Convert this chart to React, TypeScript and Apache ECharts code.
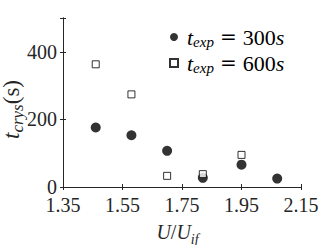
import React, { useEffect, useRef } from "react";
import * as echarts from "echarts";

// Data
const uRatio300 = [1.46, 1.58, 1.70, 1.82, 1.95, 2.07];
const tCrys300 = [176, 153, 107, 27, 66, 25];
const uRatio600 = [1.46, 1.58, 1.70, 1.82, 1.95];
const tCrys600 = [363, 274, 33, 38, 95];

const xTicks = [1.35, 1.55, 1.75, 1.95, 2.15];
const yTicks = [0, 200, 400];
const yMax = 500;

const seriesNames = ["t_exp = 300s", "t_exp = 600s"];
const legendNumbers = ["300", "600"];

const FONT = "Liberation Serif";
const EQ_FONT = "DejaVu Serif";
const AXIS_COLOR = "#262626";
const FS = 20;

const richStyles = (
  mainSize: number,
  subSize: number,
  subPad: number,
  color: string,
  leadPad: number,
  eqPad: number
) => {
  const base = { fontFamily: FONT, fontWeight: "normal", fontSize: mainSize, lineHeight: mainSize, color };
  return {
    i: { ...base, fontStyle: "italic" },
    i0: { ...base, fontStyle: "italic", padding: [0, 0, 0, leadPad] },
    n: { ...base, fontStyle: "normal" },
    eq: {
      ...base,
      fontFamily: EQ_FONT,
      fontSize: mainSize - 2,
      fontStyle: "normal",
      padding: [0, eqPad, 0, eqPad],
    },
    sub: {
      fontFamily: FONT,
      fontStyle: "italic",
      fontWeight: "normal",
      fontSize: subSize,
      lineHeight: subSize,
      verticalAlign: "top",
      padding: [subPad, 0, 0, 0],
      color,
    },
  };
};

export default function App() {
  const ref = useRef<HTMLDivElement>(null);

  useEffect(() => {
    document.body.style.margin = "0";
    const chart = echarts.init(ref.current!, null, { renderer: "svg" });

    const xOffset = xTicks[0];
    const xStep = Math.round((xTicks[1] - xTicks[0]) * 1000) / 1000;
    const xSpan = Math.round((xTicks[xTicks.length - 1] - xTicks[0]) * 1000) / 1000;
    const yStep = yTicks[1] - yTicks[0];
    const toX = (u: number) => Math.round((u - xOffset) * 1000) / 1000;

    const data300 = uRatio300.map((u, i) => [toX(u), tCrys300[i]]);
    const data600 = uRatio600.map((u, i) => [toX(u), tCrys600[i]]);

    const axisLine = { show: true, lineStyle: { color: AXIS_COLOR, width: 1 } };
    const axisTick = { show: true, inside: true, length: 3, lineStyle: { color: AXIS_COLOR, width: 1 } };

    const baseX = {
      type: "value",
      min: 0,
      max: xSpan,
      interval: xStep,
      splitLine: { show: false },
      axisLine,
      axisTick,
    };
    const baseY = {
      type: "value",
      min: 0,
      max: yMax,
      interval: yStep,
      splitLine: { show: false },
      axisLine,
      axisTick,
    };

    chart.setOption({
      animation: false,
      backgroundColor: "#ffffff",
      textStyle: { fontFamily: FONT },
      grid: {
        left: 63,
        right: 31,
        top: 18,
        bottom: 58,
        containLabel: false,
        outerBoundsMode: "none",
      },
      xAxis: [
        {
          ...baseX,
          position: "bottom",
          axisLabel: {
            show: true,
            margin: 8,
            fontFamily: FONT,
            fontSize: FS,
            color: AXIS_COLOR,
            formatter: (v: number) => (v + xOffset).toFixed(2),
          },
          name: "{i|U}{n|/}{i|U}{sub|if}",
          nameLocation: "middle",
          nameGap: 35,
          nameMoveOverlap: false,
          nameTextStyle: {
            color: AXIS_COLOR,
            fontFamily: FONT,
            fontSize: FS,
            padding: [0, 9, 0, 0],
            rich: richStyles(FS, 14, 10, AXIS_COLOR, 0, 0),
          },
        },
        {
          ...baseX,
          position: "top",
          axisLabel: { show: false },
        },
      ],
      yAxis: [
        {
          ...baseY,
          position: "left",
          axisLabel: {
            show: true,
            margin: 6,
            fontFamily: FONT,
            fontSize: FS,
            color: AXIS_COLOR,
            formatter: (v: number) => (yTicks.includes(v) ? String(v) : ""),
          },
          name: "{i|t}{sub|crys}{n|(s)}",
          nameLocation: "middle",
          nameGap: 40,
          nameMoveOverlap: false,
          nameTextStyle: {
            color: AXIS_COLOR,
            fontFamily: FONT,
            fontSize: 23,
            padding: [0, 14, 0, 0],
            rich: richStyles(23, 17, 9, AXIS_COLOR, 0, 0),
          },
        },
        {
          ...baseY,
          position: "right",
          axisLabel: { show: false },
        },
      ],
      legend: {
        orient: "vertical",
        left: 169,
        top: 26,
        padding: 0,
        itemWidth: 8,
        itemHeight: 8,
        itemGap: 3,
        data: seriesNames,
        formatter: (name: string) => {
          const k = seriesNames.indexOf(name);
          return `{i0|t}{sub|exp}{eq|=}{n|${legendNumbers[k]}}{i|s}`;
        },
        textStyle: {
          color: "#000",
          fontFamily: FONT,
          fontSize: 22,
          rich: richStyles(22, 15, 8, "#000", 4, 6),
        },
      },
      series: [
        {
          name: seriesNames[0],
          type: "scatter",
          symbol: "circle",
          symbolSize: 10,
          itemStyle: { color: "#000000" },
          data: data300,
          z: 2,
        },
        {
          name: seriesNames[1],
          type: "scatter",
          symbol: "rect",
          symbolSize: 7,
          itemStyle: { color: "#ffffff", borderColor: "#000000", borderWidth: 1 },
          data: data600,
          z: 3,
        },
      ],
    });

    return () => chart.dispose();
  }, []);

  return <div ref={ref} style={{ width: 332, height: 245 }} />;
}
